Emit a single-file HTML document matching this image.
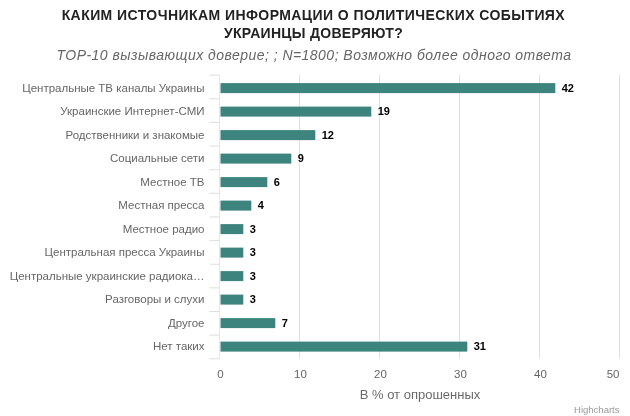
<!DOCTYPE html>
<html><head><meta charset="utf-8"><style>
html,body{margin:0;padding:0;background:#fff;}
svg{display:block;filter:blur(0.35px);font-family:"Liberation Sans",sans-serif;}
.cl{font-size:11.5px;fill:#666;text-anchor:end;}
.dl{font-size:11px;font-weight:bold;fill:#000;}
.xl{font-size:11.5px;fill:#666;}
.t{font-size:14px;font-weight:bold;fill:#222;text-anchor:middle;}
.st{font-size:14px;font-style:italic;fill:#666;text-anchor:middle;}
.at{font-size:13px;fill:#6a6a6a;text-anchor:middle;}
.cr{font-size:9.5px;fill:#999;text-anchor:end;}
</style></head><body>
<svg width="630" height="416" viewBox="0 0 630 416">
<rect width="630" height="416" fill="#fff"/>
<text x="313.4" y="19.6" class="t" style="letter-spacing:0.43px">КАКИМ ИСТОЧНИКАМ ИНФОРМАЦИИ О ПОЛИТИЧЕСКИХ СОБЫТИЯХ</text>
<text x="313.5" y="37.5" class="t" style="letter-spacing:0.28px">УКРАИНЦЫ ДОВЕРЯЮТ?</text>
<text x="314" y="59.7" class="st" style="letter-spacing:0.47px">TOP-10 вызывающих доверие; ; N=1800; Возможно более одного ответа</text>
<rect x="219.0" y="75" width="1" height="283.5" fill="#e6e6e6"/>
<rect x="299.0" y="75" width="1" height="283.5" fill="#e0e0e0"/>
<rect x="379.0" y="75" width="1" height="283.5" fill="#e0e0e0"/>
<rect x="459.0" y="75" width="1" height="283.5" fill="#e0e0e0"/>
<rect x="539.0" y="75" width="1" height="283.5" fill="#e0e0e0"/>
<rect x="619.0" y="75" width="1" height="283.5" fill="#e0e0e0"/>
<rect x="209.5" y="74.60" width="10" height="1" fill="#dedede"/>
<rect x="209.5" y="98.24" width="10" height="1" fill="#dedede"/>
<rect x="209.5" y="121.88" width="10" height="1" fill="#dedede"/>
<rect x="209.5" y="145.52" width="10" height="1" fill="#dedede"/>
<rect x="209.5" y="169.16" width="10" height="1" fill="#dedede"/>
<rect x="209.5" y="192.80" width="10" height="1" fill="#dedede"/>
<rect x="209.5" y="216.44" width="10" height="1" fill="#dedede"/>
<rect x="209.5" y="240.08" width="10" height="1" fill="#dedede"/>
<rect x="209.5" y="263.72" width="10" height="1" fill="#dedede"/>
<rect x="209.5" y="287.36" width="10" height="1" fill="#dedede"/>
<rect x="209.5" y="311.00" width="10" height="1" fill="#dedede"/>
<rect x="209.5" y="334.64" width="10" height="1" fill="#dedede"/>
<rect x="209.5" y="358.28" width="10" height="1" fill="#dedede"/>
<rect x="220.5" y="83.10" width="334.8" height="10" fill="#3d847f"/>
<text x="561.7" y="91.80" class="dl">42</text>
<text x="204.5" y="91.70" class="cl">Центральные ТВ каналы Украины</text>
<rect x="220.5" y="106.60" width="150.8" height="10" fill="#3d847f"/>
<text x="377.7" y="115.30" class="dl">19</text>
<text x="204.5" y="115.20" class="cl">Украинские Интернет-СМИ</text>
<rect x="220.5" y="130.10" width="94.8" height="10" fill="#3d847f"/>
<text x="321.7" y="138.80" class="dl">12</text>
<text x="204.5" y="138.70" class="cl">Родственники и знакомые</text>
<rect x="220.5" y="153.60" width="70.8" height="10" fill="#3d847f"/>
<text x="297.7" y="162.30" class="dl">9</text>
<text x="204.5" y="162.20" class="cl">Социальные сети</text>
<rect x="220.5" y="177.10" width="46.8" height="10" fill="#3d847f"/>
<text x="273.7" y="185.80" class="dl">6</text>
<text x="204.5" y="185.70" class="cl">Местное ТВ</text>
<rect x="220.5" y="200.60" width="30.8" height="10" fill="#3d847f"/>
<text x="257.7" y="209.30" class="dl">4</text>
<text x="204.5" y="209.20" class="cl">Местная пресса</text>
<rect x="220.5" y="224.10" width="22.8" height="10" fill="#3d847f"/>
<text x="249.7" y="232.80" class="dl">3</text>
<text x="204.5" y="232.70" class="cl">Местное радио</text>
<rect x="220.5" y="247.60" width="22.8" height="10" fill="#3d847f"/>
<text x="249.7" y="256.30" class="dl">3</text>
<text x="204.5" y="256.20" class="cl">Центральная пресса Украины</text>
<rect x="220.5" y="271.10" width="22.8" height="10" fill="#3d847f"/>
<text x="249.7" y="279.80" class="dl">3</text>
<text x="204.5" y="279.70" class="cl">Центральные украинские радиока…</text>
<rect x="220.5" y="294.60" width="22.8" height="10" fill="#3d847f"/>
<text x="249.7" y="303.30" class="dl">3</text>
<text x="204.5" y="303.20" class="cl">Разговоры и слухи</text>
<rect x="220.5" y="318.10" width="54.8" height="10" fill="#3d847f"/>
<text x="281.7" y="326.80" class="dl">7</text>
<text x="204.5" y="326.70" class="cl">Другое</text>
<rect x="220.5" y="341.60" width="246.8" height="10" fill="#3d847f"/>
<text x="473.7" y="350.30" class="dl">31</text>
<text x="204.5" y="350.20" class="cl">Нет таких</text>
<text x="220.5" y="377.6" class="xl" text-anchor="middle">0</text>
<text x="300.5" y="377.6" class="xl" text-anchor="middle">10</text>
<text x="380.5" y="377.6" class="xl" text-anchor="middle">20</text>
<text x="460.5" y="377.6" class="xl" text-anchor="middle">30</text>
<text x="540.5" y="377.6" class="xl" text-anchor="middle">40</text>
<text x="619.5" y="377.6" class="xl" text-anchor="end">50</text>
<text x="420" y="399.1" class="at">В % от опрошенных</text>
<text x="619.5" y="412.7" class="cr">Highcharts</text>
</svg>
</body></html>
